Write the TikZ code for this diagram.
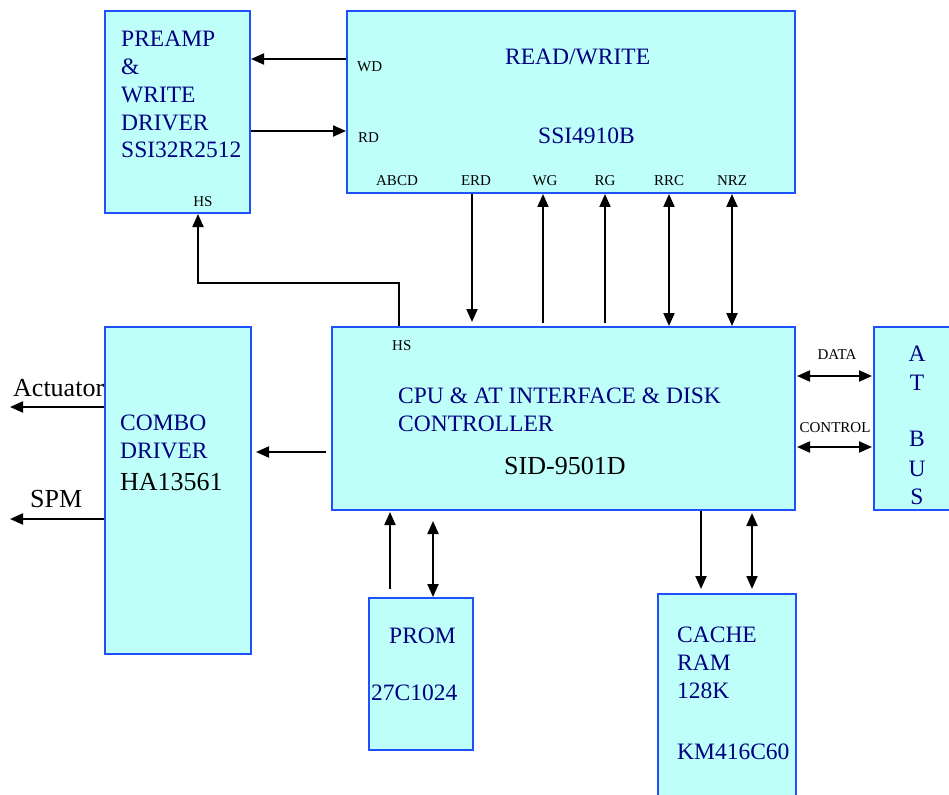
\documentclass[tikz,border=0pt]{standalone}
\usepackage{fontspec}
\setmainfont{Liberation Serif}
\usetikzlibrary{arrows.meta}

\definecolor{boxfill}{RGB}{190,255,250}
\definecolor{boxline}{RGB}{30,80,255}
\definecolor{navy}{RGB}{0,0,128}

\tikzset{
  blk/.style={draw=boxline, fill=boxfill, line width=2pt, inner sep=0pt},
  arr/.style={line width=2pt, -{Triangle[length=13pt,width=11pt]}},
  darr/.style={line width=2pt, {Triangle[length=13pt,width=11pt]}-{Triangle[length=13pt,width=11pt]}},
  navytxt/.style={text=navy, inner sep=0pt, align=left, font=\fontsize{23.5}{27.8}\selectfont},
  bigtxt/.style={text=black, inner sep=0pt, font=\fontsize{26}{30}\selectfont},
  pin/.style={text=black, inner sep=0pt, font=\fontsize{15}{18}\selectfont}
}

\begin{document}
\begin{tikzpicture}[x=1pt, y=-1pt, line cap=butt, line join=miter]
  \useasboundingbox (0,0) rectangle (949,794);

  % blocks
  \node[blk, minimum width=145pt, minimum height=202pt] (pre)   at (177.5,112)   {};
  \node[blk, minimum width=448pt, minimum height=182pt] (rw)    at (571,102)     {};
  \node[blk, minimum width=146pt, minimum height=327pt] (combo) at (178,490.5)   {};
  \node[blk, minimum width=463pt, minimum height=183pt] (cpu)   at (563.5,418.5) {};
  \node[blk, minimum width=78pt,  minimum height=183pt] (atbus) at (913,418.5)   {};
  \node[blk, minimum width=104pt, minimum height=152pt] (prom)  at (421,674)     {};
  \node[blk, minimum width=138pt, minimum height=206pt] (cache) at (727,697)     {};

  % block texts (multi-line nodes sit on their last baseline)
  \node[navytxt, anchor=base west] (pretxt) at (121,158) {PREAMP\\\&\\WRITE\\DRIVER\\SSI32R2512};
  \node[pin, anchor=base] (prehs) at (203,207) {HS};
  \node[navytxt, anchor=base west] (rwtxt) at (505,65) {READ/WRITE};
  \node[navytxt, anchor=base west] (rwpart) at (538,144) {SSI4910B};
  \node[pin, anchor=base west] (wd) at (357,72) {WD};
  \node[pin, anchor=base west] (rd) at (358,143) {RD};
  \node[pin, anchor=base] (abcd) at (397,186) {ABCD};
  \node[pin, anchor=base] (erd)  at (476,186) {ERD};
  \node[pin, anchor=base] (wg)   at (545,186) {WG};
  \node[pin, anchor=base] (rg)   at (605,186) {RG};
  \node[pin, anchor=base] (rrc)  at (669,186) {RRC};
  \node[pin, anchor=base] (nrz)  at (732,186) {NRZ};
  \node[pin, anchor=base west] (cpuhs) at (392,350) {HS};
  \node[navytxt, anchor=base west] (cputxt) at (398,431) {CPU \& AT INTERFACE \& DISK\\CONTROLLER};
  \node[bigtxt, anchor=base west] (cpupart) at (504,474) {SID-9501D};
  \node[navytxt, anchor=base west] (combotxt) at (120,458) {COMBO\\DRIVER};
  \node[bigtxt, anchor=base west] (combopart) at (120,490) {HA13561};
  \node[bigtxt, anchor=base west] (acttxt) at (13,396) {Actuator};
  \node[bigtxt, anchor=base west] (spmtxt) at (30,507) {SPM};
  \node[pin, anchor=base] (datatxt) at (837,359) {DATA};
  \node[pin, anchor=base] (ctltxt)  at (835,432) {CONTROL};
  \foreach \ch/\yy in {A/361, T/390, B/446, U/476, S/504} {
    \node[navytxt, anchor=base] (bus\ch) at (917,\yy) {\ch};
  }
  \node[navytxt, anchor=base west] (promtxt) at (389,643) {PROM};
  \node[navytxt, anchor=base west] (prompart) at (371,700) {27C1024};
  \node[navytxt, anchor=base west] (cachetxt) at (677,698) {CACHE\\RAM\\128K};
  \node[navytxt, anchor=base west] (cachepart) at (677,759) {KM416C60};

  % free ends
  \coordinate (act) at (10,407);
  \coordinate (spm) at (10,519);

  % connectors
  \draw[arr] (rw.west |- 0,59) -- (pre.east |- 0,59);            % WD
  \draw[arr] (pre.east |- 0,131) -- (rw.west |- 0,131);          % RD
  \draw[arr] (399,0 |- cpu.north) -- (399,283) -- (198,283) -- (198,0 |- pre.south);  % HS
  \draw[arr, shorten >=4pt] (472,0 |- rw.south) -- (472,0 |- cpu.north);   % ERD
  \foreach \xx in {543,605} {
    \draw[arr, shorten <=3pt] (\xx,0 |- cpu.north) -- (\xx,0 |- rw.south);  % WG, RG
  }
  \foreach \xx in {669,732} {
    \draw[darr] (\xx,0 |- rw.south) -- (\xx,0 |- cpu.north);        % RRC, NRZ
  }
  \draw[darr, shorten <=1pt, shorten >=1pt] (cpu.east |- 0,376) -- (atbus.west |- 0,376);  % DATA
  \draw[darr, shorten <=1pt, shorten >=1pt] (cpu.east |- 0,447) -- (atbus.west |- 0,447);  % CONTROL
  \draw[arr, shorten <=5pt, shorten >=4pt] (cpu.west |- 0,452) -- (combo.east |- 0,452);
  \draw[arr] (combo.west |- act) -- (act);
  \draw[arr] (combo.west |- spm) -- (spm);
  \draw[arr, shorten <=8pt, shorten >=1pt] (390,0 |- prom.north) -- (390,0 |- cpu.south);
  \draw[darr, shorten >=10pt] (433,0 |- prom.north) -- (433,0 |- cpu.south);
  \draw[arr, shorten >=4pt] (701,0 |- cpu.south) -- (701,0 |- cache.north);
  \draw[darr, shorten <=2pt, shorten >=4pt] (752,0 |- cpu.south) -- (752,0 |- cache.north);
\end{tikzpicture}
\end{document}
